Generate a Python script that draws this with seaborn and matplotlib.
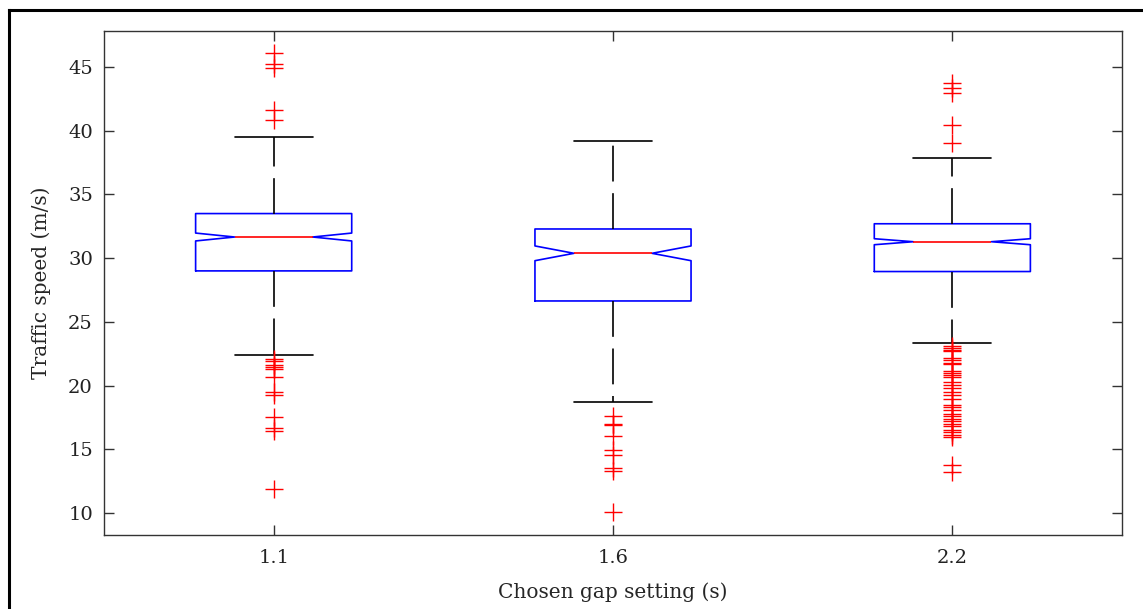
import numpy as np
import pandas as pd
import matplotlib
matplotlib.use("Agg")
import matplotlib.pyplot as plt
from matplotlib.lines import Line2D
import seaborn as sns

# Gap settings (s) and per-setting speed summaries (m/s)
gap_settings = ["1.1", "1.6", "2.2"]
n_obs = [520, 235, 625]
whisker_low = [22.38, 18.73, 23.35]
q1_vals = [29.0, 26.64, 28.95]
medians = [31.66, 30.38, 31.29]
q3_vals = [33.5, 32.29, 32.70]
whisker_high = [39.5, 39.19, 37.9]

# Outlying speeds beyond the 1.5 IQR fences
outliers_low = [
    [22.05, 21.95, 21.6, 21.45, 21.3, 20.65, 19.52, 19.26, 17.51, 16.69, 16.43, 11.86],
    [17.64, 17.0, 16.9, 16.07, 14.94, 14.55, 13.56, 13.30, 10.1],
    [23.1, 22.95, 22.8, 22.7, 22.2, 22.0, 21.8, 21.7, 21.15, 21.0, 20.85, 20.7,
     20.30, 20.04, 19.79, 19.52, 19.26, 18.92, 18.45, 18.3, 18.1, 17.8, 17.6,
     17.4, 17.2, 16.95, 16.8, 16.55, 16.35, 16.15, 15.95, 13.77, 13.24],
]
outliers_high = [
    [46.07, 45.21, 44.94, 41.63, 40.84],
    [],
    [43.72, 43.33, 42.94, 40.45, 39.06],
]


def speed_sample(n, lo, q1, med, q3, hi, low_out, high_out):
    """Sorted sample of size n whose quartiles, whisker ends and outliers
    reproduce the given summary."""
    k_low = len(low_out) + 1
    k_high = len(high_out) + 1
    i1 = int(round(0.375 * n))
    i2 = int(round(0.625 * n))
    vals = (list(low_out) + [lo]
            + [q1] * (i1 - k_low)
            + [med] * (i2 - i1)
            + [q3] * (n - k_high - i2)
            + [hi] + list(high_out))
    return vals


rows = []
for i, g in enumerate(gap_settings):
    vals = speed_sample(n_obs[i], whisker_low[i], q1_vals[i], medians[i],
                        q3_vals[i], whisker_high[i],
                        outliers_low[i], outliers_high[i])
    rows.extend((g, v) for v in vals)
df = pd.DataFrame(rows, columns=["gap", "speed"])

sns.set_theme(style="ticks")
plt.rcParams["font.family"] = ["DejaVu Serif", "DejaVu Sans"]
plt.rcParams["axes.edgecolor"] = "#333333"
plt.rcParams["xtick.color"] = "#333333"
plt.rcParams["ytick.color"] = "#333333"
plt.rcParams["xtick.labelcolor"] = "#222222"
plt.rcParams["ytick.labelcolor"] = "#222222"

fig = plt.figure(figsize=(11.43, 6.09), dpi=100)
ax = fig.add_axes([104 / 1143, 1 - 535 / 609, (1122 - 104) / 1143, (535 - 31) / 609])

lw = 1.2
sns.boxplot(
    data=df, x="gap", y="speed", order=gap_settings, ax=ax,
    notch=True, fill=False, width=0.46, whis=1.5,
    boxprops=dict(color="#0000ff", linewidth=lw),
    medianprops=dict(color="#ff0000", linewidth=lw),
    whiskerprops=dict(color="black", linewidth=lw, linestyle=(0, (21.5, 7.0))),
    capprops=dict(color="black", linewidth=lw),
    flierprops=dict(marker="+", markersize=13, markeredgecolor="#ff0000",
                    markerfacecolor="none", markeredgewidth=1.0, linestyle="none"),
)

ax.set_xlim(-0.5, 2.5)
ax.set_ylim(8.27, 47.83)
ax.set_yticks([10, 15, 20, 25, 30, 35, 40, 45])
ax.set_xlabel("Chosen gap setting (s)", fontsize=14.5, labelpad=11)
ax.set_ylabel("Traffic speed (m/s)", fontsize=14.5, labelpad=12)
for side in ["top", "right", "left", "bottom"]:
    ax.spines[side].set_visible(True)
    ax.spines[side].set_linewidth(1.0)
ax.tick_params(axis="both", which="both", direction="in", length=7.5, width=1.0,
               top=True, right=True, labelsize=14, pad=8)
ax.tick_params(axis="x", pad=10)

# Frame around the figure
fig.add_artist(Line2D([9 / 1143, 9 / 1143], [0, 1 - 10 / 609], transform=fig.transFigure,
                      color="black", linewidth=2.2, solid_capstyle="projecting"))
fig.add_artist(Line2D([9 / 1143, 1], [1 - 10 / 609, 1 - 10 / 609], transform=fig.transFigure,
                      color="black", linewidth=2.2, solid_capstyle="projecting"))

fig.savefig("out.png", dpi=100)
